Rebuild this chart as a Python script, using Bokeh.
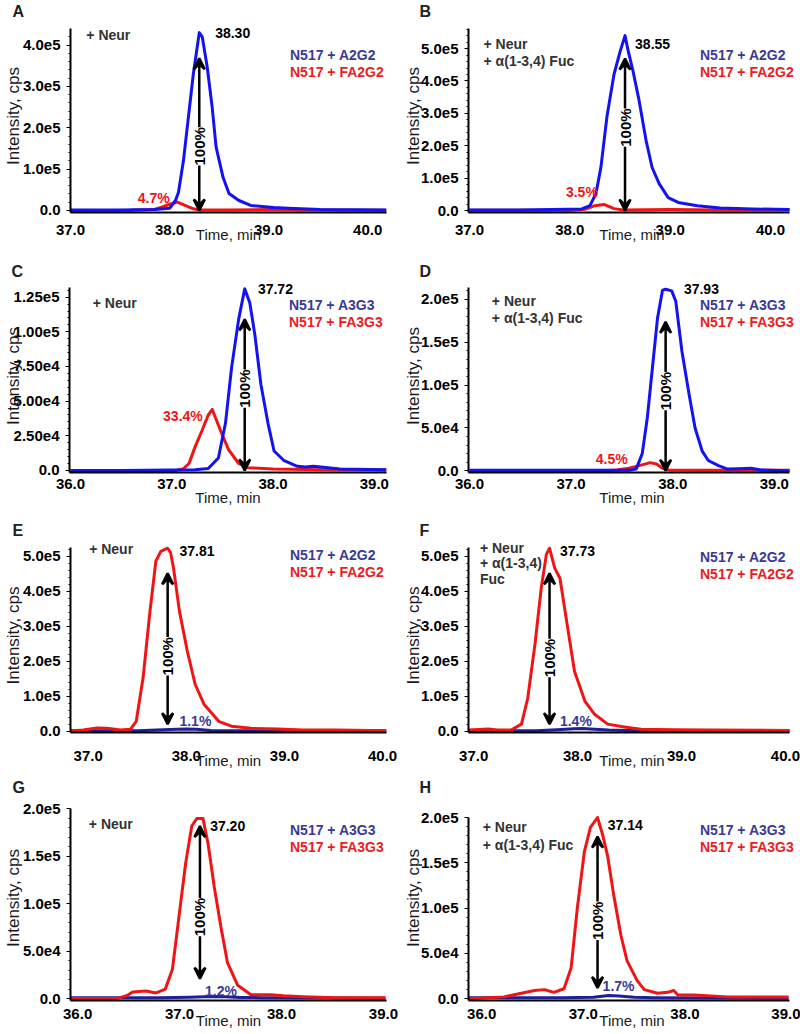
import numpy as np
from math import pi
from bokeh.plotting import figure
from bokeh.layouts import column, row
from bokeh.models import FixedTicker, Legend, LegendItem, Arrow, VeeHead, Label, Range1d, Title
from bokeh.core.properties import value
from bokeh.embed import file_html
from bokeh.resources import INLINE

# ---------------- data (intensity in units of 1e5 cps, time in min) ----------------
A_blue_t = [37.00, 37.50, 37.85, 38.00, 38.06, 38.09, 38.14, 38.19, 38.24, 38.30, 38.33, 38.38, 38.43, 38.47, 38.54, 38.60, 38.70, 38.82, 39.05, 39.20, 39.52, 40.19]
A_blue_y = [0.01, 0.01, 0.02, 0.05, 0.24, 0.44, 1.20, 2.25, 3.30, 4.30, 4.20, 3.47, 2.50, 1.53, 0.80, 0.41, 0.24, 0.12, 0.07, 0.05, 0.02, 0.01]
A_red_t = [37.00, 37.60, 37.84, 37.92, 38.00, 38.08, 38.15, 38.24, 38.30, 38.60, 39.00, 39.30, 40.19]
A_red_y = [0.00, 0.005, 0.02, 0.08, 0.15, 0.20, 0.13, 0.04, 0.01, 0.01, 0.02, 0.01, 0.005]

B_blue_t = [37.00, 37.50, 37.83, 38.12, 38.20, 38.26, 38.31, 38.37, 38.44, 38.50, 38.55, 38.58, 38.63, 38.69, 38.76, 38.82, 38.89, 38.98, 39.08, 39.27, 39.50, 39.82, 40.19]
B_blue_y = [0.02, 0.02, 0.03, 0.05, 0.15, 0.52, 1.34, 2.90, 4.20, 4.90, 5.40, 4.95, 4.30, 3.40, 2.16, 1.33, 0.83, 0.40, 0.25, 0.15, 0.08, 0.05, 0.03]
B_red_t = [37.00, 38.00, 38.15, 38.25, 38.34, 38.44, 38.53, 39.00, 39.50, 40.19]
B_red_y = [0.01, 0.01, 0.04, 0.15, 0.19, 0.06, 0.02, 0.03, 0.02, 0.02]

C_blue_t = [36.00, 36.50, 37.00, 37.23, 37.36, 37.46, 37.53, 37.59, 37.66, 37.72, 37.77, 37.82, 37.88, 37.95, 38.01, 38.11, 38.24, 38.32, 38.40, 38.66, 39.12]
C_blue_y = [0.00, 0.00, 0.003, 0.005, 0.014, 0.09, 0.34, 0.74, 1.09, 1.31, 1.21, 0.98, 0.62, 0.34, 0.14, 0.07, 0.03, 0.025, 0.03, 0.01, 0.005]
C_red_t = [36.00, 36.50, 37.04, 37.11, 37.17, 37.23, 37.30, 37.36, 37.40, 37.48, 37.56, 37.66, 37.75, 38.00, 38.50, 39.12]
C_red_y = [0.0, 0.0, 0.0, 0.01, 0.05, 0.17, 0.29, 0.40, 0.44, 0.29, 0.15, 0.05, 0.02, 0.01, 0.005, 0.003]

D_blue_t = [36.00, 36.50, 37.00, 37.57, 37.64, 37.70, 37.75, 37.80, 37.85, 37.90, 37.93, 37.99, 38.03, 38.09, 38.16, 38.22, 38.29, 38.35, 38.45, 38.54, 38.65, 38.77, 38.87, 39.15]
D_blue_y = [0.005, 0.005, 0.005, 0.005, 0.02, 0.20, 0.62, 1.20, 1.78, 2.11, 2.12, 2.10, 1.98, 1.40, 0.90, 0.50, 0.23, 0.12, 0.06, 0.02, 0.025, 0.03, 0.01, 0.0]
D_red_t = [36.00, 37.00, 37.32, 37.45, 37.57, 37.67, 37.78, 37.84, 37.90, 37.96, 38.30, 39.15]
D_red_y = [0.0, 0.0, 0.0, 0.01, 0.03, 0.06, 0.095, 0.08, 0.03, 0.01, 0.005, 0.005]

E_red_t = [36.82, 36.95, 37.09, 37.19, 37.33, 37.43, 37.49, 37.56, 37.63, 37.69, 37.74, 37.81, 37.84, 37.87, 37.93, 38.01, 38.09, 38.18, 38.26, 38.33, 38.46, 38.66, 38.93, 39.19, 39.53, 40.04]
E_red_y = [0.00, 0.03, 0.09, 0.08, 0.03, 0.05, 0.28, 1.53, 3.43, 4.86, 5.14, 5.23, 5.10, 4.66, 3.43, 2.29, 1.34, 0.77, 0.51, 0.28, 0.14, 0.08, 0.06, 0.03, 0.03, 0.01]
E_blue_t = [36.82, 37.50, 37.70, 37.90, 38.00, 38.10, 38.25, 38.50, 40.04]
E_blue_y = [0.01, 0.01, 0.03, 0.05, 0.058, 0.05, 0.02, 0.01, 0.01]

F_red_t = [36.95, 37.00, 37.14, 37.23, 37.36, 37.46, 37.52, 37.59, 37.65, 37.70, 37.73, 37.78, 37.83, 37.89, 37.97, 38.07, 38.16, 38.29, 38.45, 38.61, 38.93, 39.25, 40.04]
F_red_y = [0.03, 0.04, 0.06, 0.03, 0.03, 0.20, 0.94, 2.49, 4.09, 5.06, 5.23, 4.66, 4.37, 3.23, 1.71, 0.86, 0.49, 0.20, 0.12, 0.05, 0.04, 0.03, 0.02]
F_blue_t = [36.95, 37.60, 37.80, 37.97, 38.05, 38.12, 38.30, 38.60, 40.04]
F_blue_y = [0.01, 0.01, 0.04, 0.07, 0.073, 0.06, 0.03, 0.01, 0.01]

G_red_t = [35.93, 36.38, 36.48, 36.54, 36.67, 36.77, 36.86, 36.93, 36.99, 37.06, 37.12, 37.17, 37.23, 37.28, 37.34, 37.41, 37.47, 37.57, 37.70, 37.89, 38.02, 38.21, 38.53, 39.02]
G_red_y = [0.0, 0.0, 0.03, 0.07, 0.08, 0.06, 0.10, 0.31, 0.83, 1.43, 1.82, 1.90, 1.90, 1.63, 1.18, 0.73, 0.38, 0.14, 0.04, 0.04, 0.03, 0.02, 0.01, 0.01]
G_blue_t = [35.93, 36.80, 37.10, 37.30, 37.45, 37.60, 37.80, 39.02]
G_blue_y = [0.01, 0.01, 0.015, 0.023, 0.02, 0.012, 0.01, 0.005]

H_red_t = [35.87, 36.22, 36.39, 36.52, 36.62, 36.71, 36.81, 36.88, 36.94, 37.01, 37.07, 37.14, 37.19, 37.24, 37.30, 37.37, 37.43, 37.53, 37.60, 37.73, 37.83, 37.89, 37.93, 38.09, 38.42, 39.02]
H_red_y = [0.0, 0.02, 0.06, 0.09, 0.10, 0.07, 0.11, 0.34, 0.99, 1.62, 1.89, 2.00, 1.81, 1.57, 1.14, 0.70, 0.42, 0.20, 0.10, 0.06, 0.07, 0.09, 0.04, 0.04, 0.02, 0.02]
H_blue_t = [35.87, 36.80, 37.10, 37.25, 37.35, 37.50, 37.70, 39.02]
H_blue_y = [0.01, 0.01, 0.015, 0.034, 0.03, 0.015, 0.01, 0.005]

# tick values / labels
x_ticks_37 = [37, 38, 39, 40]
x_ticks_36 = [36, 37, 38, 39]
y_ticks_5 = [0, 1, 2, 3, 4, 5]
y_labels_5 = ["0.0", "1.0e5", "2.0e5", "3.0e5", "4.0e5", "5.0e5"]
y_ticks_4 = [0, 1, 2, 3, 4]
y_labels_4 = ["0.0", "1.0e5", "2.0e5", "3.0e5", "4.0e5"]
y_ticks_c = [0, 0.25, 0.5, 0.75, 1.0, 1.25]
y_labels_c = ["0.0", "2.50e4", "5.00e4", "7.50e4", "1.00e5", "1.25e5"]
y_ticks_2 = [0, 0.5, 1.0, 1.5, 2.0]
y_labels_2 = ["0.0", "5.0e4", "1.0e5", "1.5e5", "2.0e5"]

peak_times = ["38.30", "38.55", "37.72", "37.93", "37.81", "37.73", "37.20", "37.14"]
minor_pcts = ["4.7%", "3.5%", "33.4%", "4.5%", "1.1%", "1.4%", "1.2%", "1.7%"]
series_A2 = ["N517 + A2G2", "N517 + FA2G2"]
series_A3 = ["N517 + A3G3", "N517 + FA3G3"]
cond_neur = ["+ Neur"]
cond_fuc = ["+ Neur", "+ \u03b1(1-3,4) Fuc"]
cond_fuc3 = ["+ Neur", "+ \u03b1(1-3,4)", "Fuc"]

# ---------------- styles / layout ----------------
FONT = "Liberation Sans"
BLUE = "#1212f2"
BLUE_DARK = "#1f1f96"
RED = "#f01414"
LEG_BLUE = "#3a3a96"
LEG_RED = "#ec1c24"
COND_GRAY = "#333333"

# page pixel geometry of each row: figure top/bottom, frame top, axis top, frame bottom
ROWS = [
    dict(fig_top=0, fig_bot=258, frame_top=19, axis_top=28, frame_bot=212, title_standoff=0, tick_standoff=12, label_standoff=-12),
    dict(fig_top=258, fig_bot=515, frame_top=279, axis_top=287, frame_bot=472, title_standoff=0, tick_standoff=6, label_standoff=-3),
    dict(fig_top=515, fig_bot=772, frame_top=538, axis_top=547, frame_bot=732, title_standoff=0, tick_standoff=18, label_standoff=-12),
    dict(fig_top=772, fig_bot=1032, frame_top=795, axis_top=817, frame_bot=1000, title_standoff=0, tick_standoff=8, label_standoff=-10),
]
COLS = [
    dict(fig_left=0, width=400, frame_left=66, axis_right=386, frame_right=386, title_offset=-58),
    dict(fig_left=400, width=400, frame_left=464, axis_right=789, frame_right=795, title_offset=-49),
]

PANELS = [
    dict(letter="A", bt=A_blue_t, by=A_blue_y, rt=A_red_t, ry=A_red_y, xr=(37.0, 40.19), yr=(-0.05, 4.4),
         xt=x_ticks_37, yt=y_ticks_4, yl=y_labels_4, series=series_A2, major="blue",
         peak=(38.30, 4.30, 38.46), pct=(37.84, 0.30, "center"), cond=cond_neur, cond_xy=(37.16, [4.25]),
         arrow=(3.68, 0.0, 1.55), leg=(272, 55), ylab_standoff=-3),
    dict(letter="B", bt=B_blue_t, by=B_blue_y, rt=B_red_t, ry=B_red_y, xr=(36.99, 40.19), yr=(-0.06, 5.62),
         xt=x_ticks_37, yt=y_ticks_5, yl=y_labels_5, series=series_A2, major="blue",
         peak=(38.55, 5.15, 38.65), pct=(38.12, 0.56, "center"), cond=cond_fuc, cond_xy=(37.14, [5.15, 4.63]),
         arrow=(4.69, 0.0, 2.56), leg=(682, 55), ylab_standoff=-5),
    dict(letter="C", bt=C_blue_t, by=C_blue_y, rt=C_red_t, ry=C_red_y, xr=(35.99, 39.12), yr=(-0.015, 1.32),
         xt=x_ticks_36, yt=y_ticks_c, yl=y_labels_c, series=series_A3, major="blue",
         peak=(37.72, 1.31, 37.85), pct=(37.11, 0.39, "center"), cond=cond_neur, cond_xy=(36.22, [1.21]),
         arrow=(1.09, 0.0, 0.59), leg=(272, 305), ylab_standoff=-12),
    dict(letter="D", bt=D_blue_t, by=D_blue_y, rt=D_red_t, ry=D_red_y, xr=(35.99, 39.15), yr=(-0.02, 2.14),
         xt=x_ticks_36, yt=y_ticks_2, yl=y_labels_2, series=series_A3, major="blue",
         peak=(37.93, 2.12, 38.11), pct=(37.40, 0.14, "center"), cond=cond_fuc, cond_xy=(36.22, [1.98, 1.78]),
         arrow=(1.74, 0.0, 0.93), leg=(682, 305), ylab_standoff=-5),
    dict(letter="E", bt=E_blue_t, by=E_blue_y, rt=E_red_t, ry=E_red_y, xr=(36.82, 40.04), yr=(-0.04, 5.25),
         xt=x_ticks_37, yt=y_ticks_5, yl=y_labels_5, series=series_A2, major="red",
         peak=(37.81, 5.14, 37.93), pct=(37.93, 0.28, "left"), cond=cond_neur, cond_xy=(37.01, [5.2]),
         arrow=(4.51, 0.2, 2.14), leg=(272, 555), ylab_standoff=-3),
    dict(letter="F", bt=F_blue_t, by=F_blue_y, rt=F_red_t, ry=F_red_y, xr=(36.95, 40.04), yr=(-0.04, 5.25),
         xt=x_ticks_37, yt=y_ticks_5, yl=y_labels_5, series=series_A2, major="red",
         peak=(37.73, 5.14, 37.83), pct=(37.83, 0.28, "left"), cond=cond_fuc3, cond_xy=(37.06, [5.23, 4.8, 4.34]),
         arrow=(4.51, 0.2, 2.09), leg=(682, 557), ylab_standoff=-5),
    dict(letter="G", bt=G_blue_t, by=G_blue_y, rt=G_red_t, ry=G_red_y, xr=(35.93, 39.03), yr=(-0.02, 1.91),
         xt=x_ticks_36, yt=y_ticks_2, yl=y_labels_2, series=series_A3, major="red",
         peak=(37.20, 1.82, 37.30), pct=(37.25, 0.08, "left"), cond=cond_neur, cond_xy=(36.11, [1.84]),
         arrow=(1.82, 0.21, 0.86), leg=(272, 830), ylab_standoff=-3),
    dict(letter="H", bt=H_blue_t, by=H_blue_y, rt=H_red_t, ry=H_red_y, xr=(35.87, 39.03), yr=(-0.02, 2.0),
         xt=x_ticks_36, yt=y_ticks_2, yl=y_labels_2, series=series_A3, major="red",
         peak=(37.14, 1.92, 37.24), pct=(37.19, 0.14, "left"), cond=cond_fuc, cond_xy=(36.01, [1.89, 1.70]),
         arrow=(1.79, 0.12, 0.86), leg=(682, 830), ylab_standoff=-5),
]

TXT = dict(text_font=value(FONT), text_font_size="14px", text_font_style="bold", text_baseline="middle")


def make_panel(i, cfg):
    r = ROWS[i // 2]
    c = COLS[i % 2]
    height = r["fig_bot"] - r["fig_top"]
    # axis extents are the reference ones; the frame is a little larger so texts are not clipped
    x0, x1 = cfg["xr"]
    y0, y1 = cfg["yr"]
    x_end = x0 + (x1 - x0) * (c["frame_right"] - c["frame_left"]) / (c["axis_right"] - c["frame_left"])
    y_end = y0 + (y1 - y0) * (r["frame_bot"] - r["frame_top"]) / (r["frame_bot"] - r["axis_top"])
    p = figure(width=c["width"], height=height, output_backend="svg", toolbar_location=None,
               x_range=Range1d(x0, x_end), y_range=Range1d(y0, y_end),
               min_border_left=c["frame_left"] - c["fig_left"],
               min_border_right=c["fig_left"] + c["width"] - c["frame_right"],
               min_border_top=r["frame_top"] - r["fig_top"],
               min_border_bottom=r["fig_bot"] - r["frame_bot"])
    p.outline_line_color = None
    p.grid.visible = False
    p.background_fill_color = "white"
    p.border_fill_color = "white"

    t = Title(text=cfg["letter"], align="left", offset=c["title_offset"], standoff=r["title_standoff"],
              text_font=FONT, text_font_size="16px", text_font_style="bold", text_color="#222222")
    p.add_layout(t, "above")

    # x axis
    xa = p.xaxis[0]
    xa.bounds = (x0, x1)
    xa.ticker = FixedTicker(ticks=cfg["xt"], minor_ticks=[])
    xa.major_label_overrides = {v: f"{v:.1f}" for v in cfg["xt"]}
    xa.axis_label = "Time, min"
    xa.axis_label_text_font = FONT
    xa.axis_label_text_font_size = "15px"
    xa.axis_label_text_font_style = "normal"
    xa.axis_label_text_color = "#1a1a1a"
    xa.axis_label_standoff = r["label_standoff"]
    xa.major_label_standoff = r["tick_standoff"]
    xa.major_label_text_font = FONT
    xa.major_label_text_font_size = "15px"
    xa.major_label_text_font_style = "bold"
    xa.major_label_text_color = "black"
    xa.axis_line_width = 2
    xa.axis_line_color = "black"
    xa.major_tick_out = 0
    xa.major_tick_in = 0

    # y axis
    ya = p.yaxis[0]
    y_top = max(y1, cfg["yt"][-1])
    ya.bounds = (y0, y_top)
    step = cfg["yt"][1] - cfg["yt"][0]
    minor = list(np.arange(0, y_top, step / 5.0))
    ya.ticker = FixedTicker(ticks=cfg["yt"], minor_ticks=minor)
    ya.major_label_overrides = {v: lab for v, lab in zip(cfg["yt"], cfg["yl"])}
    ya.axis_label = "Intensity, cps"
    ya.axis_label_text_font = FONT
    ya.axis_label_text_font_size = "17px"
    ya.axis_label_text_font_style = "normal"
    ya.axis_label_text_color = "#1a1a1a"
    ya.axis_label_standoff = cfg["ylab_standoff"]
    ya.major_label_standoff = 6
    ya.major_label_text_font = FONT
    ya.major_label_text_font_size = "15px"
    ya.major_label_text_font_style = "bold"
    ya.major_label_text_color = "black"
    ya.axis_line_width = 2
    ya.axis_line_color = "black"
    ya.major_tick_out = 4
    ya.major_tick_in = 0
    ya.minor_tick_out = 2
    ya.minor_tick_in = 0

    blue_col = BLUE if cfg["major"] == "blue" else BLUE_DARK
    if cfg["major"] == "blue":
        p.line(cfg["rt"], cfg["ry"], line_color=RED, line_width=3, line_join="round")
        p.line(cfg["bt"], cfg["by"], line_color=blue_col, line_width=3, line_join="round")
    else:
        p.line(cfg["bt"], cfg["by"], line_color=blue_col, line_width=3, line_join="round")
        p.line(cfg["rt"], cfg["ry"], line_color=RED, line_width=3, line_join="round")

    # legend: two separate legends so each label keeps its series colour
    sq_b = p.scatter([], [], marker="square", size=11, color=LEG_BLUE)
    sq_r = p.scatter([], [], marker="square", size=11, color=LEG_RED)
    lx, ly = cfg["leg"]
    for k, (rend, lab, col) in enumerate([(sq_b, cfg["series"][0], LEG_BLUE), (sq_r, cfg["series"][1], LEG_RED)]):
        cy = ly + 17 * k
        leg = Legend(items=[LegendItem(label=lab, renderers=[rend])],
                     location=(lx - c["frame_left"], r["frame_bot"] - cy - 8),
                     padding=0, margin=0, spacing=0, border_line_color=None, background_fill_alpha=0,
                     glyph_width=11, glyph_height=11, label_standoff=3, label_height=16,
                     label_text_font=FONT, label_text_font_size="14px", label_text_font_style="bold",
                     label_text_color=col, label_text_baseline="middle")
        p.add_layout(leg)

    # condition text
    cx, cys = cfg["cond_xy"]
    p.text(x=[cx] * len(cys), y=cys, text=cfg["cond"], text_color=COND_GRAY, text_align="left", **TXT)

    # peak retention-time label
    px, py, plx = cfg["peak"]
    p.text(x=[plx], y=[py], text=[peak_times[i]], text_color="black", text_align="left", **TXT)

    # minor peak percentage
    mx, my, malign = cfg["pct"]
    pct_col = RED if cfg["major"] == "blue" else LEG_BLUE
    p.text(x=[mx], y=[my], text=[minor_pcts[i]], text_color=pct_col, text_align=malign, **TXT)

    # 100% double arrow
    a_top, a_bot, a_mid = cfg["arrow"]
    p.add_layout(Arrow(start=VeeHead(size=11, line_width=2.5, line_color="black"),
                       end=VeeHead(size=11, line_width=2.5, line_color="black"),
                       x_start=px, y_start=a_bot, x_end=px, y_end=a_top,
                       line_width=2.5, line_color="black"))
    p.add_layout(Label(x=px, y=a_mid, text="100%", angle=pi / 2, text_align="center", text_baseline="middle",
                       text_font=FONT, text_font_size="15px", text_font_style="bold", text_color="black",
                       background_fill_color="white"))
    return p


figs = [make_panel(i, cfg) for i, cfg in enumerate(PANELS)]
layout = column(*[row(figs[2 * k], figs[2 * k + 1]) for k in range(4)])

with open("out.html", "w") as f:
    f.write(file_html(layout, INLINE))
